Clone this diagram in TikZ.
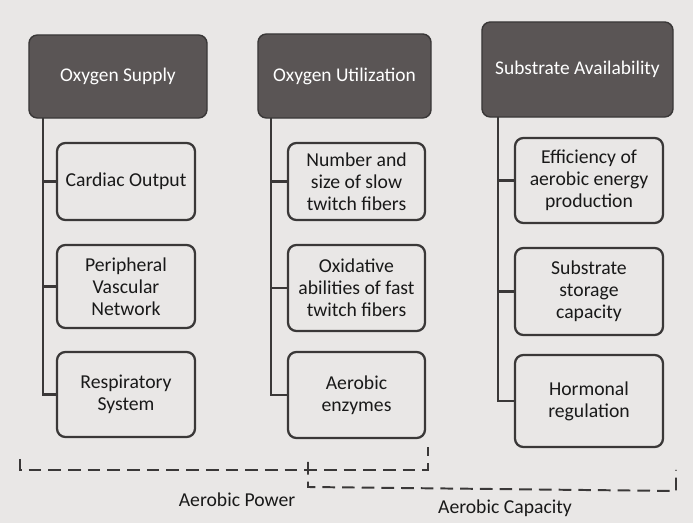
\documentclass[tikz,border=0pt]{standalone}
\usepackage{fontspec}
\setmainfont{Carlito}
\definecolor{pagegray}{HTML}{E9E7E6}
\definecolor{headgray}{HTML}{5A5555}
\definecolor{inkgray}{HTML}{3A3838}
\begin{document}
\begin{tikzpicture}[x=0.025cm,y=-0.025cm]
		\tikzset{head/.style = {shape=rectangle, rounded corners=6pt, draw=inkgray, line width=1pt, fill=headgray, text=white, font=\fontsize{13.8}{16}\selectfont, align=center},
		item/.style = {shape=rectangle, rounded corners=6pt, draw=inkgray, line width=1.6pt, text=black!90, font=\fontsize{14}{15.5}\selectfont, align=center},
		trunk/.style = {draw=inkgray, line width=2pt},
		span/.style = {draw=inkgray, line width=1.4pt, dashed, dash pattern=on 9pt off 5pt}}

		\fill[pagegray] (0,0) rectangle (693,523);
		\useasboundingbox (0,0) rectangle (693,523);

		\node[head, minimum width=4.45cm, minimum height=2.075cm] (O_S) at (118,76.5) {Oxygen Supply};
		\node[head, minimum width=4.325cm, minimum height=2.1cm] (O_U) at (344.5,76) {Oxygen Utilization};
		\node[head, minimum width=4.775cm, minimum height=2.375cm] (S_A) at (577.5,69.5) {Substrate Availability};

		\node[item, minimum width=3.45cm, minimum height=1.925cm] (S_1) at (126,181.5) {Cardiac Output};
		\node[item, minimum width=3.45cm, minimum height=2.075cm] (S_2) at (126,286.5) {Peripheral\\Vascular\\Network};
		\node[item, minimum width=3.45cm, minimum height=2.125cm] (S_3) at (126,394.5) {Respiratory\\System};

		\node[item, minimum width=3.425cm, minimum height=1.925cm] (U_1) at (356.5,181.5) {Number and\\size of slow\\twitch fibers};
		\node[item, minimum width=3.425cm, minimum height=2.15cm] (U_2) at (356.5,288) {Oxidative\\abilities of fast\\twitch fibers};
		\node[item, minimum width=3.425cm, minimum height=2.15cm] (U_3) at (356.5,395) {Aerobic\\enzymes};

		\node[item, minimum width=3.7cm, minimum height=2.125cm] (A_1) at (589,180.5) {Efficiency of\\aerobic energy\\production};
		\node[item, minimum width=3.7cm, minimum height=2.175cm] (A_2) at (589,291.5) {Substrate\\storage\\capacity};
		\node[item, minimum width=3.7cm, minimum height=2.3cm] (A_3) at (589,401) {Hormonal\\regulation};

		\coordinate (T_S) at (43,118);
		\coordinate (T_U) at (271,118);
		\coordinate (T_A) at (498,117);

		\draw[trunk] (T_S) |- (S_3.west);
		\draw[trunk] (T_S |- S_1.west) -- (S_1.west);
		\draw[trunk] (T_S |- S_2.west) -- (S_2.west);

		\draw[trunk] (T_U) |- (U_3.west);
		\draw[trunk] (T_U |- U_1.west) -- (U_1.west);
		\draw[trunk] (T_U |- U_2.west) -- (U_2.west);

		\draw[trunk] (T_A) |- (A_3.west);
		\draw[trunk] (T_A |- A_1.west) -- (A_1.west);
		\draw[trunk] (T_A |- A_2.west) -- (A_2.west);

		\coordinate (P_1) at (20,459);
		\coordinate (P_2) at (428,447);
		\coordinate (C_1) at (308,462);
		\coordinate (C_2) at (676,470);

		\draw[span] (P_1) -- (20,470) -- (428,470) -- (P_2);
		\draw[span] (C_1) -- (308,487) -- (676,491) -- (C_2);

		\node[font=\fontsize{14}{15}\selectfont, text=black!90] (A_P) at (237,500) {Aerobic Power};
		\node[font=\fontsize{14}{15}\selectfont, text=black!90] (A_C) at (505,508) {Aerobic Capacity};

	\end{tikzpicture}
\end{document}
